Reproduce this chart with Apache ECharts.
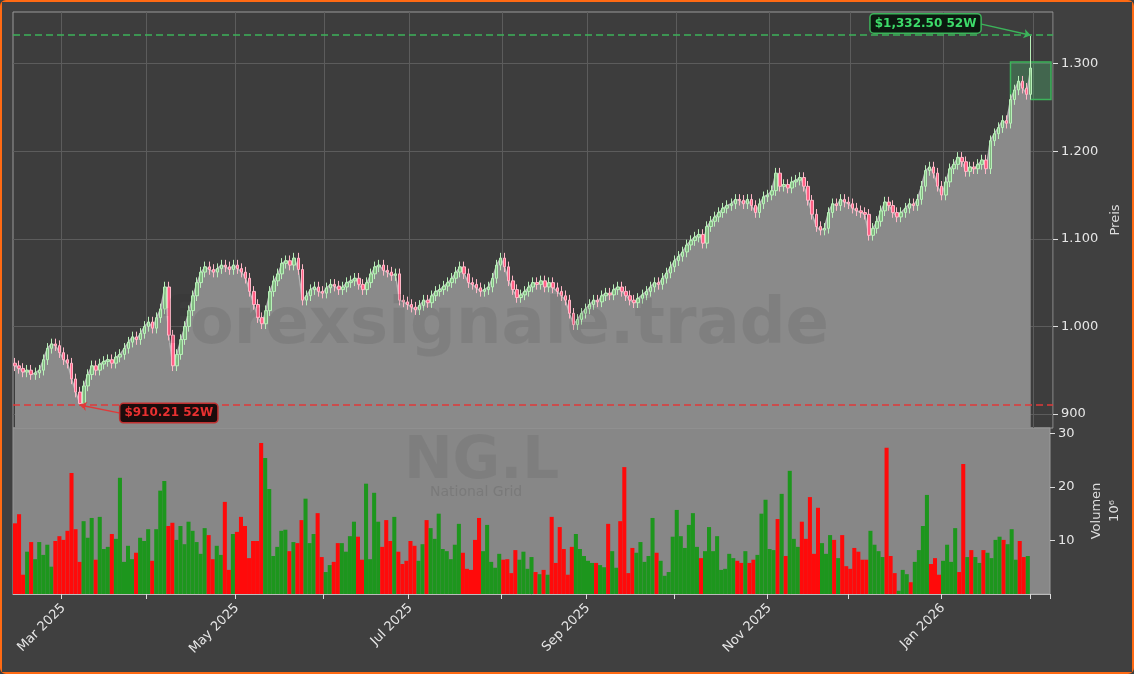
<!DOCTYPE html>
<html>
<head>
<meta charset="utf-8">
<script src="https://cdn.jsdelivr.net/npm/echarts@6/dist/echarts.min.js"></script>
<style>
html, body { margin: 0; padding: 0; background: #404040; }
#chart { width: 1130px; height: 670px; border: 2px solid #ff6a13; border-radius: 6px; }
</style>
</head>
<body>
<div id="chart"></div>
<script>
// Schlusskurse (GBp), täglich
var closes = [
    955, 952, 948, 950, 945, 947, 950, 962, 975, 980,
    978, 970, 962, 958, 940, 925, 912, 932, 945, 955,
    950, 957, 960, 962, 958, 965, 968, 975, 982, 988,
    985, 992, 1000, 1005, 998, 1010, 1020, 1045, 990, 955,
    968, 985, 1000, 1018, 1035, 1050, 1062, 1068, 1065, 1062,
    1066, 1070, 1068, 1065, 1070, 1066, 1062, 1055, 1040,
    1025, 1010, 1003, 1018, 1040, 1052, 1060, 1072, 1075, 1070,
    1078, 1065, 1030, 1035, 1042, 1045, 1040, 1038, 1044, 1048,
    1046, 1042, 1045, 1050, 1052, 1055, 1048, 1042, 1050,
    1060, 1068, 1070, 1064, 1062, 1058, 1060, 1030, 1028, 1025,
    1022, 1019, 1024, 1030, 1027, 1035, 1040, 1042, 1046, 1050,
    1055, 1062, 1068, 1060, 1050, 1048, 1044, 1040, 1042, 1045,
    1055, 1070, 1078, 1068, 1052, 1042, 1033, 1036, 1040, 1045,
    1050, 1048, 1052, 1045, 1050, 1044, 1040, 1035, 1030,
    1015, 1002, 1008, 1015, 1020, 1025, 1030, 1028, 1035, 1038,
    1036, 1042, 1045, 1040, 1035, 1030, 1027, 1032, 1036, 1040,
    1045, 1050, 1048, 1055, 1061, 1068, 1075, 1080, 1085, 1093,
    1098, 1102, 1105, 1095, 1114, 1120, 1125, 1130, 1135, 1138,
    1140, 1145, 1144, 1140, 1145, 1138, 1130, 1140, 1148,
    1150, 1155, 1175, 1160, 1162, 1158, 1165, 1167, 1170, 1160,
    1144, 1128, 1114, 1110, 1112, 1130, 1140, 1138, 1145, 1142,
    1140, 1135, 1132, 1130, 1128, 1104, 1112, 1120, 1132,
    1142, 1138, 1130, 1125, 1130, 1135, 1140, 1138, 1145,
    1160, 1178, 1182, 1175, 1160, 1150, 1165, 1180, 1185, 1193,
    1188, 1177, 1182, 1180, 1185, 1190, 1180, 1212, 1220, 1227,
    1235, 1232, 1259, 1270, 1280, 1272, 1265, 1295
];
var firstOpen = 958;
var high52 = 1332.50;
var low52 = 910.21;

// Volumen in Mio.
var volumes = [
    13.2, 14.9, 3.6, 7.9, 9.7, 6.5, 9.7, 7.3, 9.2, 5.1,
    9.9, 10.8, 10.1, 11.8, 22.6, 12.1, 6, 13.6, 10.5, 14.2,
    6.4, 14.4, 8.4, 8.8, 11.2, 10.3, 21.7, 6, 9, 6.5,
    7.7, 10.5, 9.9, 12.1, 6.2, 12.1, 19.3, 21.1, 12.7, 13.3,
    10.1, 12.7, 9.3, 13.5, 11.8, 9.7, 7.5, 12.3, 11, 6.5,
    9, 7.3, 17.2, 4.5, 11.2, 11.6, 14.4, 12.7, 6.7, 9.9,
    9.9, 28.2, 25.4, 19.6, 7.1, 8.8, 11.8, 12, 8, 9.7,
    9.5, 13.8, 17.8, 9.5, 11.2, 15.1, 6.9, 4.1, 5.4, 6,
    9.5, 9.5, 7.9, 10.8, 13.5, 10.7, 6.4, 20.6, 6.5, 18.9,
    13.5, 8.8, 13.8, 9.9, 14.4, 7.9, 5.6, 6.2, 9.9, 9,
    6.2, 9.3, 13.8, 12.3, 10.3, 15, 8.4, 8, 6.5, 9.2,
    13.1, 7.7, 4.7, 4.5, 10.1, 14.2, 8, 12.9, 6, 4.9,
    7.5, 6.4, 6.5, 3.9, 8.2, 6.4, 7.9, 4.7, 6.9, 4.1,
    3.7, 4.5, 3.6, 14.4, 5.8, 12.5,
    8.4, 3.6, 8.8, 11.2, 8.4, 7.1, 6.2, 5.8, 5.8, 5.4,
    5, 13.1, 8, 4.9, 13.6, 23.7, 3.9, 8.6, 7.7, 9.7,
    6, 7.1, 14.2, 7.7, 6.2, 3.4, 4.1, 10.7, 15.7, 10.8,
    8.6, 12.9, 15.1, 8.8, 6.7, 8, 12.5, 8, 10.8, 4.5,
    4.7, 7.5, 6.7, 6.2, 5.8, 8, 5.8, 6.4, 7.3, 15,
    17.6, 8.4, 8.2, 14, 18.7, 7.1, 23, 10.3, 8.8, 13.5,
    10.3, 18.1, 7.5, 16.1, 9.5, 7.5, 11, 10.1, 6.7, 11,
    5.2, 4.7, 8.6, 7.9, 6.4, 6.4, 11.8, 9.2, 8, 6.9,
    27.3, 7.1, 3.9, 0.6, 4.5, 3.7, 2.2, 6, 8.2, 12.7,
    18.5, 5.6, 6.7, 3.6, 6.2, 9.2, 6, 12.3, 4.1, 24.3,
    6.9, 8.2, 6.9, 5.8, 8.2, 7.7, 6.7, 10.1, 10.7, 10.1,
    9.3, 12.1, 6.4, 9.9, 6.9, 7.1
];
var priceTicks = [900, 1000, 1100, 1200, 1300];
var volTicks = [10, 20, 30];
var monthNames = ['Jan','Feb','Mar','Apr','May','Jun','Jul','Aug','Sep','Oct','Nov','Dec'];

// Handelstage (Mo-Fr) ab 13.02.2025, plus etwas Leerraum rechts
var dates = [];
var d = new Date(Date.UTC(2025, 1, 13));
while (dates.length < closes.length + 5) {
    if (d.getUTCDay() != 0 && d.getUTCDay() != 6) dates.push(new Date(d.getTime()));
    d.setUTCDate(d.getUTCDate() + 1);
}
var cats = dates.map(function (x) { return x.toISOString().slice(0, 10); });
function isMonthStart(i) {
    return i > 0 && dates[i].getUTCMonth() != dates[i - 1].getUTCMonth();
}
function isLabelMonth(i) {
    return isMonthStart(i) && dates[i].getUTCMonth() % 2 == 0;
}

// OHLC
var candles = [];
var lowIdx = 0;
for (var i = 0; i < closes.length; i++) {
    var o = i == 0 ? firstOpen : closes[i - 1];
    var c = closes[i];
    var h = Math.max(o, c) + 6;
    var l = Math.min(o, c) - 6;
    if (i == closes.length - 1) h = high52;
    if (c == Math.min.apply(null, closes)) { l = low52; lowIdx = i; }
    candles.push([o, c, l, h]);
}
var volData = volumes.map(function (v, i) {
    var up = candles[i] ? candles[i][1] >= candles[i][0] : true;
    return { value: v, itemStyle: { color: up ? '#1d961d' : '#ff0a0a' } };
});

function fmtPrice(v) {
    var s = String(Math.round(v));
    return s.length > 3 ? s.slice(0, s.length - 3) + '.' + s.slice(-3) : s;
}

var myChart = echarts.init(document.getElementById('chart'));
var axisText = { color: '#e6e6e6', fontSize: 13, fontFamily: 'DejaVu Sans' };

var option = {
    backgroundColor: '#404040',
    animation: false,
    graphic: [
        { type: 'text', left: 160, top: 292, z: 100, silent: true,
          style: { text: 'forexsignale.trade', fontSize: 64, fontWeight: 'bold', fontFamily: 'DejaVu Sans', fill: 'rgba(40,40,40,0.1)' } },
        { type: 'text', left: 402, top: 432, z: 100, silent: true,
          style: { text: 'NG.L', fontSize: 58, fontWeight: 'bold', fontFamily: 'DejaVu Sans', fill: 'rgba(40,40,40,0.09)' } },
        { type: 'text', left: 428, top: 483, z: 100, silent: true,
          style: { text: 'National Grid', fontSize: 14, fontFamily: 'DejaVu Sans', fill: 'rgba(40,40,40,0.14)' } }
    ],
    grid: [
        { left: 11, right: 79, top: 10, height: 416, show: true, backgroundColor: '#3d3d3d', borderColor: '#9a9a9a', borderWidth: 1 },
        { left: 11, right: 79, top: 426, bottom: 78, show: true, backgroundColor: '#878787', borderColor: '#9a9a9a', borderWidth: 1 }
    ],
    xAxis: [
        {
            type: 'category', gridIndex: 0, data: cats, boundaryGap: true,
            axisLine: { show: false }, axisTick: { show: false }, axisLabel: { show: false },
            splitLine: { show: true, interval: function (i) { return isMonthStart(i); }, lineStyle: { color: '#5c5c5c' } }
        },
        {
            type: 'category', gridIndex: 1, data: cats, boundaryGap: true,
            axisLine: { lineStyle: { color: '#bbbbbb' } },
            axisTick: { show: true, interval: function (i) { return isMonthStart(i); }, length: 5, lineStyle: { color: '#dddddd' } },
            axisLabel: {
                interval: function (i) { return isLabelMonth(i); },
                rotate: 45, margin: 12, color: '#e6e6e6', fontSize: 13, fontFamily: 'DejaVu Sans',
                formatter: function (v) {
                    var t = new Date(v + 'T00:00:00Z');
                    return monthNames[t.getUTCMonth()] + ' ' + t.getUTCFullYear();
                }
            },
            splitLine: { show: false }
        }
    ],
    yAxis: [
        {
            type: 'value', gridIndex: 0, position: 'right', min: 884, max: 1359,
            name: 'Preis', nameLocation: 'middle', nameGap: 52, nameRotate: 90,
            nameTextStyle: { color: '#dddddd', fontSize: 13, fontFamily: 'DejaVu Sans' },
            axisLine: { show: false },
            axisTick: { show: true, customValues: priceTicks, length: 5, lineStyle: { color: '#dddddd' } },
            axisLabel: Object.assign({ customValues: priceTicks, formatter: fmtPrice, margin: 8 }, axisText),
            splitLine: { show: true, lineStyle: { color: '#5c5c5c' } }
        },
        {
            type: 'value', gridIndex: 1, position: 'right', min: 0, max: 31,
            name: 'Volumen\n10⁶', nameLocation: 'middle', nameGap: 38, nameRotate: 90,
            nameTextStyle: { color: '#dddddd', fontSize: 13, fontFamily: 'DejaVu Sans', lineHeight: 18 },
            axisLine: { show: false },
            axisTick: { show: true, customValues: volTicks, length: 5, lineStyle: { color: '#dddddd' } },
            axisLabel: Object.assign({ customValues: volTicks, margin: 8 }, axisText),
            splitLine: { show: false }
        }
    ],
    series: [
        {
            name: 'Fläche', type: 'line', xAxisIndex: 0, yAxisIndex: 0, data: closes,
            symbol: 'none', z: 2,
            lineStyle: { color: '#b4b4b4', width: 1.5 },
            areaStyle: { color: '#8a8a8a', opacity: 1, origin: 'start' }
        },
        {
            name: 'Kurs', type: 'candlestick', xAxisIndex: 0, yAxisIndex: 0, data: candles,
            barWidth: 3, z: 3,
            itemStyle: {
                color: 'rgba(120,220,120,0.55)', color0: '#ff5f85',
                borderColor: '#b8f0b8', borderColor0: '#ffb8c8', borderWidth: 1
            },
            markLine: {
                symbol: 'none', silent: true,
                label: { show: false },
                data: [
                    { yAxis: high52, lineStyle: { color: '#3cb35a', type: [7, 4], width: 1.5 } },
                    { yAxis: low52, lineStyle: { color: '#e03a3a', type: [7, 4], width: 1.5 } },
                    [
                        { coord: [cats[238], 1346], symbol: 'none', lineStyle: { color: '#3cb35a', type: 'solid', width: 1.5 } },
                        { coord: [cats[closes.length - 1], high52], symbol: 'arrow', symbolSize: 7 }
                    ],
                    [
                        { coord: [cats[26], 901], symbol: 'none', lineStyle: { color: '#e03a3a', type: 'solid', width: 1.5 } },
                        { coord: [cats[lowIdx], low52], symbol: 'arrow', symbolSize: 7 }
                    ]
                ]
            },
            markPoint: {
                symbol: 'rect', symbolSize: 1, silent: true,
                data: [
                    { coord: [cats[225], 1346], itemStyle: { color: 'transparent' },
                      label: { show: true, formatter: '$1,332.50 52W', color: '#3ddc6a', fontWeight: 'bold', fontSize: 12,
                               fontFamily: 'DejaVu Sans', backgroundColor: '#0c1a10', borderColor: '#3cb35a', borderWidth: 1.5,
                               borderRadius: 3, padding: [3, 4] } },
                    { coord: [cats[38], 901], itemStyle: { color: 'transparent' },
                      label: { show: true, formatter: '$910.21 52W', color: '#e83030', fontWeight: 'bold', fontSize: 12,
                               fontFamily: 'DejaVu Sans', backgroundColor: '#1c0c0c', borderColor: '#c03030', borderWidth: 1.5,
                               borderRadius: 3, padding: [3, 4] } }
                ]
            },
            markArea: {
                silent: true,
                itemStyle: { color: 'rgba(80,200,120,0.3)', borderColor: '#3cb35a', borderWidth: 1.5 },
                data: [[
                    { coord: [cats[246], 1259] },
                    { coord: [cats[cats.length - 1], 1302] }
                ]]
            }
        },
        {
            name: 'Volumen', type: 'bar', xAxisIndex: 1, yAxisIndex: 1, data: volData,
            barWidth: '100%', z: 3
        }
    ]
};

myChart.setOption(option);
</script>
</body>
</html>
